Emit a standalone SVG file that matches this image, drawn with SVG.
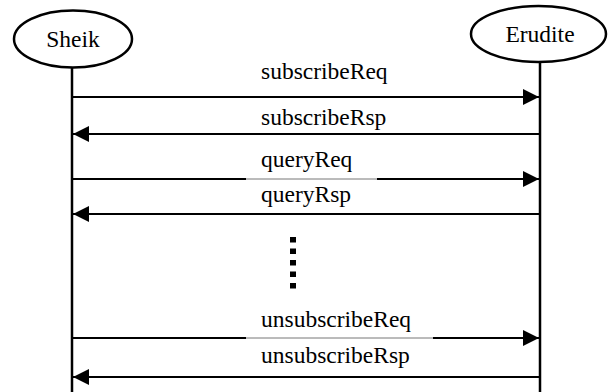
<svg xmlns="http://www.w3.org/2000/svg" width="608" height="392" viewBox="0 0 608 392">
<style>
.actor{fill:#fff;stroke:#000;stroke-width:2.5}
.life{stroke:#000;stroke-width:2.5;fill:none}
.msg{stroke:#000;stroke-width:1.8;fill:none}
.lbl{font-family:'Liberation Serif','Times New Roman',Times,serif;font-size:23.5px;fill:#000}
.gap{fill:#fff;stroke:none}
.thin{stroke:#777;stroke-width:1}
</style>
<defs>
<marker id="ah" viewBox="0 0 16 16" refX="16" refY="8" markerWidth="16" markerHeight="16" markerUnits="userSpaceOnUse" orient="auto">
<path d="M0,0 L16,8 L0,16 Z" fill="#000"/>
</marker>
</defs>
<rect width="608" height="392" fill="#fff"/>
<g id="lifelines">
<line class="life" x1="72" y1="67" x2="72" y2="392"/>
<line class="life" x1="540" y1="62" x2="540" y2="392"/>
</g>
<g id="sheik">
<ellipse class="actor" cx="73" cy="39" rx="59" ry="28.5"/>
<text class="lbl" font-family="Liberation Serif, Times New Roman, serif" x="73" y="47" text-anchor="middle">Sheik</text>
</g>
<g id="erudite">
<ellipse class="actor" cx="538.5" cy="34" rx="67.5" ry="28"/>
<text class="lbl" font-family="Liberation Serif, Times New Roman, serif" x="540" y="42" text-anchor="middle">Erudite</text>
</g>
<g id="connectors">
<line class="msg" x1="72" y1="97" x2="539" y2="97" marker-end="url(#ah)"/>
<line class="msg" x1="540" y1="134" x2="73" y2="134" marker-end="url(#ah)"/>
<line class="msg" x1="72" y1="179" x2="539" y2="179" marker-end="url(#ah)"/>
<rect class="gap" x="246" y="176" width="131" height="6"/>
<line class="thin" x1="246" y1="179" x2="377" y2="179"/>
<line class="msg" x1="540" y1="214" x2="73" y2="214" marker-end="url(#ah)"/>
<line class="msg" x1="72" y1="338" x2="539" y2="338" marker-end="url(#ah)"/>
<rect class="gap" x="246" y="335" width="187" height="6"/>
<line class="thin" x1="246" y1="338" x2="433" y2="338"/>
<line class="msg" x1="540" y1="377" x2="73" y2="377" marker-end="url(#ah)"/>
</g>
<g id="labels" font-family="Liberation Serif, Times New Roman, serif">
<text class="lbl" x="261" y="79">subscribeReq</text>
<text class="lbl" x="261" y="125">subscribeRsp</text>
<text class="lbl" x="261" y="167">queryReq</text>
<text class="lbl" x="261" y="202">queryRsp</text>
<text class="lbl" x="261" y="327">unsubscribeReq</text>
<text class="lbl" x="261" y="363">unsubscribeRsp</text>
</g>
<g id="ellipsis">
<line x1="293" y1="237" x2="293" y2="289" stroke="#000" stroke-width="6" stroke-dasharray="5.5 6"/>
</g>
</svg>
